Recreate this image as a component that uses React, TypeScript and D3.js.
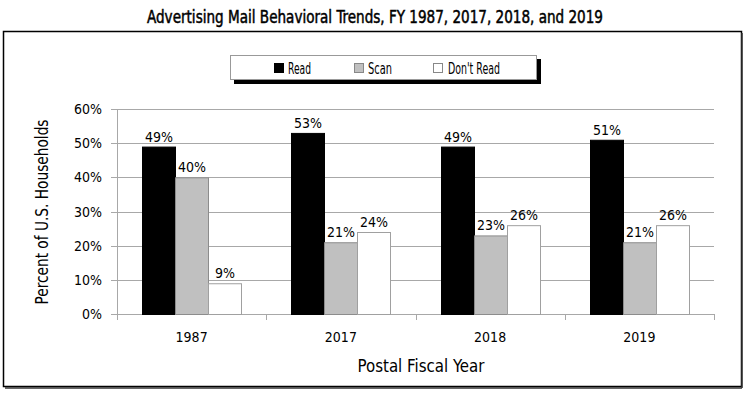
import React from "react";
import * as d3 from "d3";

const categories = ["1987", "2017", "2018", "2019"];
const seriesNames = ["Read", "Scan", "Don't Read"];
const readValues = [49, 53, 49, 51];
const scanValues = [40, 21, 23, 21];
const dontReadValues = [9, 24, 26, 26];
const yTicks = [0, 10, 20, 30, 40, 50, 60];

const FONT = "'DejaVu Sans Condensed', 'DejaVu Sans', sans-serif";

const fills = ["#000000", "#c0c0c0", "#ffffff"];
const strokes = ["#000000", "#8c8c8c", "#a0a0a0"];

export default function App() {
  const W = 750, H = 396;
  const left = 117, right = 714, top = 109, bottom = 314;
  const x = d3.scaleBand<string>().domain(categories).range([left, right]).paddingInner(0).paddingOuter(0);
  const y = d3.scaleLinear().domain([0, 60]).range([bottom, top]);
  const barW = 33;
  const groupW = barW * 3;
  const series = [readValues, scanValues, dontReadValues];
  const legendLens = [23, 24, 52];

  return (
    <svg width={W} height={H} style={{ position: "absolute", left: 0, top: 0 }} fontFamily={FONT}>
      <rect x={0} y={0} width={W} height={H} fill="#fff" />
      {/* title */}
      <text x={375} y={23} textAnchor="middle" fontSize={18} fill="#000" stroke="#000" strokeWidth={0.5} textLength={456} lengthAdjust="spacingAndGlyphs">
        Advertising Mail Behavioral Trends, FY 1987, 2017, 2018, and 2019
      </text>
      {/* frame */}
      <rect x={3.5} y={31.5} width={738} height={355} fill="#fff" stroke="#000" strokeWidth={1.5} />
      <line x1={742} y1={33} x2={742} y2={388} stroke="#333" strokeWidth={1.5} />
      <line x1={5} y1={388} x2={742} y2={388} stroke="#333" strokeWidth={1.5} />

      {/* legend */}
      <rect x={234} y={59} width={307} height={25} fill="#000" />
      <rect x={230.5} y={55.5} width={306} height={24} fill="#fff" stroke="#999" strokeWidth={1} />
      {seriesNames.map((n, i) => {
        const sx = [274, 354, 433][i];
        const tx = [288, 368, 448][i];
        return (
          <g key={n}>
            <rect x={sx + 0.5} y={63.5} width={9} height={9} fill={fills[i]} stroke={i === 0 ? "#000" : "#888"} />
            <text x={tx} y={74} fontSize={15} fill="#000" textLength={legendLens[i]} lengthAdjust="spacingAndGlyphs">{n}</text>
          </g>
        );
      })}

      {/* gridlines */}
      {yTicks.map((t) => (
        <g key={t}>
          <line x1={left - 6} x2={right} y1={Math.round(y(t)) + 0.5} y2={Math.round(y(t)) + 0.5} stroke="#a8a8a8" strokeWidth={1} />
          <text x={102} y={y(t) + 5} textAnchor="end" fontSize={14} fill="#000">{t}%</text>
        </g>
      ))}
      <line x1={left + 0.5} x2={left + 0.5} y1={top} y2={bottom + 6} stroke="#a8a8a8" />
      {categories.map((c) => (
        <line key={"tk" + c} x1={Math.round((x(c) as number) + x.bandwidth()) + 0.5} x2={Math.round((x(c) as number) + x.bandwidth()) + 0.5} y1={bottom} y2={bottom + 6} stroke="#a8a8a8" />
      ))}

      {/* bars */}
      {categories.map((c, ci) => {
        const gx = (x(c) as number) + (x.bandwidth() - groupW) / 2;
        return (
          <g key={c}>
            {series.map((vals, si) => {
              const v = vals[ci];
              const bx = Math.round(gx + si * barW);
              const by = y(v);
              return (
                <g key={si}>
                  <rect x={bx + 0.5} y={by + 0.5} width={barW} height={bottom - by} fill={fills[si]} stroke={strokes[si]} strokeWidth={1} />
                  <text x={bx + barW / 2 + 0.5} y={by - 5} textAnchor="middle" fontSize={14} fill="#000">{v}%</text>
                </g>
              );
            })}
            <text x={(x(c) as number) + x.bandwidth() / 2} y={342} textAnchor="middle" fontSize={14} fill="#000">{c}</text>
          </g>
        );
      })}

      {/* axis titles */}
      <text x={421} y={372} textAnchor="middle" fontSize={17} fill="#000" textLength={127} lengthAdjust="spacingAndGlyphs">Postal Fiscal Year</text>
      <text transform="translate(48,212) rotate(-90)" textAnchor="middle" fontSize={17} fill="#000" textLength={185} lengthAdjust="spacingAndGlyphs">Percent of U.S. Households</text>
    </svg>
  );
}
